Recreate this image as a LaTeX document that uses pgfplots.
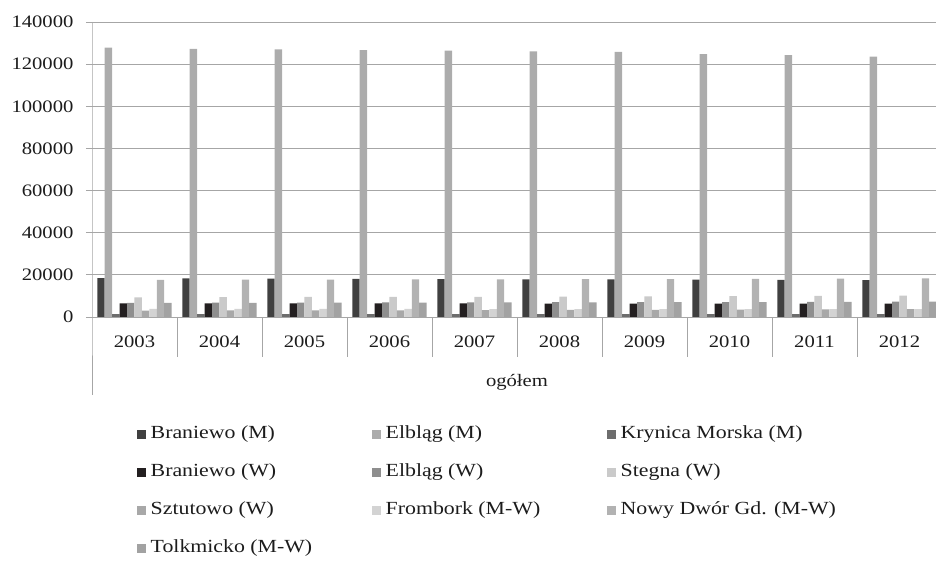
\documentclass[border=0pt]{standalone}
\usepackage{pgfplots}
\pgfplotsset{compat=1.18}
\usepackage{fontspec}
\setmainfont{Liberation Serif}[FakeStretch=1.18]
\definecolor{cBM}{HTML}{404040}
\definecolor{cEM}{HTML}{ACACAC}
\definecolor{cKM}{HTML}{6D6D6D}
\definecolor{cBW}{HTML}{231F20}
\definecolor{cEW}{HTML}{8E8E8E}
\definecolor{cSW}{HTML}{CACACA}
\definecolor{cSzW}{HTML}{A8A8A8}
\definecolor{cFr}{HTML}{D3D3D3}
\definecolor{cND}{HTML}{B2B2B2}
\definecolor{cTo}{HTML}{A2A2A2}
\definecolor{txt}{HTML}{1C1C1C}
\definecolor{grd}{HTML}{A6A6A6}
\newcommand{\legent}[1]{\makebox[226pt][l]{\hspace{4.5pt}#1}}
\begin{document}
\begin{tikzpicture}[x=1pt,y=1pt]
\path[use as bounding box] (-92,-244) rectangle (844,317);
\begin{axis}[
  at={(0,0)}, anchor=south west,
  scale only axis, width=844pt, height=295pt,
  xmin=-0.5, xmax=9.43, ymin=0, ymax=140000,
  clip=false,
  axis line style={draw=none},
  ybar=0pt, bar width=0.0875,
  xtick={0,...,9},
  xticklabels={2003,2004,2005,2006,2007,2008,2009,2010,2011,2012},
  x tick style={draw=none},
  xticklabel style={yshift=-9pt, font=\fontsize{17.5}{20}\selectfont, text=txt},
  ytick={0,20000,40000,60000,80000,100000,120000,140000},
  yticklabels={0,20000,40000,60000,80000,100000,120000,140000},
  scaled y ticks=false,
  yticklabel style={xshift=-9pt, font=\fontsize{17.5}{20}\selectfont, text=txt},
  y tick style={grd, line width=0.8pt},
  tick align=outside, major tick length=6pt,
  ymajorgrids, grid style={grd, line width=0.8pt},
  legend columns=3,
  legend style={draw=none, fill=none, at={(axis cs:-0.5,0)}, anchor=north west,
    xshift=45pt, yshift=-108pt, inner sep=0pt, row sep=21pt,
    font=\fontsize{18.5}{20}\selectfont, text=txt,
    nodes={inner sep=0pt, text height=13pt, text depth=4pt}},
  legend image code/.code={\fill[#1,draw=none] (0pt,-5pt) rectangle (9pt,4pt);},
]
\addplot[fill=cBM,draw=none] coordinates {(0,18400)(1,18300)(2,18200)(3,18100)(4,18000)(5,17900)(6,17800)(7,17700)(8,17600)(9,17500)};
\addplot[fill=cEM,draw=none] coordinates {(0,127800)(1,127300)(2,127000)(3,126600)(4,126400)(5,126000)(6,125800)(7,124800)(8,124300)(9,123600)};
\addplot[fill=cKM,draw=none] coordinates {(0,1400)(1,1400)(2,1400)(3,1400)(4,1400)(5,1400)(6,1400)(7,1400)(8,1400)(9,1400)};
\addplot[fill=cBW,draw=none] coordinates {(0,6500)(1,6500)(2,6500)(3,6500)(4,6500)(5,6400)(6,6400)(7,6400)(8,6400)(9,6400)};
\addplot[fill=cEW,draw=none] coordinates {(0,6700)(1,6800)(2,6800)(3,6900)(4,6900)(5,7000)(6,7000)(7,7100)(8,7200)(9,7300)};
\addplot[fill=cSW,draw=none] coordinates {(0,9300)(1,9400)(2,9500)(3,9500)(4,9600)(5,9700)(6,9800)(7,9900)(8,10000)(9,10100)};
\addplot[fill=cSzW,draw=none] coordinates {(0,3000)(1,3100)(2,3100)(3,3200)(4,3300)(5,3400)(6,3400)(7,3500)(8,3600)(9,3700)};
\addplot[fill=cFr,draw=none] coordinates {(0,3800)(1,3800)(2,3800)(3,3800)(4,3700)(5,3700)(6,3700)(7,3700)(8,3700)(9,3700)};
\addplot[fill=cND,draw=none] coordinates {(0,17600)(1,17700)(2,17700)(3,17800)(4,17900)(5,18000)(6,18000)(7,18100)(8,18200)(9,18300)};
\addplot[fill=cTo,draw=none] coordinates {(0,6700)(1,6700)(2,6800)(3,6800)(4,6900)(5,6900)(6,7000)(7,7100)(8,7200)(9,7300)};
\legend{\legent{Braniewo (M)},\legent{Elbląg (M)},\legent{Krynica Morska (M)},
        \legent{Braniewo (W)},\legent{Elbląg (W)},\legent{Stegna (W)},
        \legent{Sztutowo (W)},\legent{Frombork (M-W)},\legent{Nowy Dwór Gd. (M-W)},
        \legent{Tolkmicko (M-W)}}
\draw[grd, line width=0.8pt] (axis cs:-0.5,140000) -- (axis cs:-0.5,0) -- ++(0pt,-78pt);
\pgfplotsinvokeforeach{0.5,1.5,2.5,3.5,4.5,5.5,6.5,7.5,8.5}{
  \draw[grd, line width=0.8pt] (axis cs:#1,0) -- ++(0pt,-40pt);
}
\node[text=txt, font=\fontsize{17.5}{20}\selectfont] at ([yshift=-65pt]axis cs:4.5,0) {ogółem};
\end{axis}
\end{tikzpicture}
\end{document}
